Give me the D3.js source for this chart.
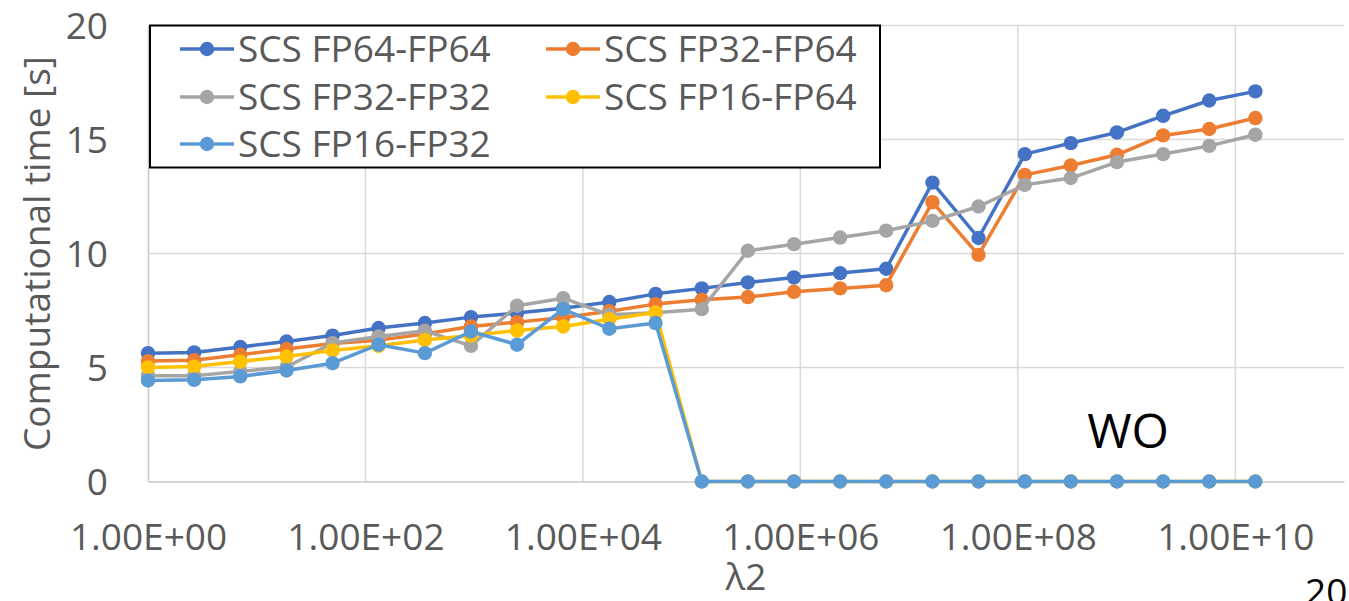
<!DOCTYPE html>
<html>
<head>
<meta charset="utf-8">
<script src="https://cdn.jsdelivr.net/npm/d3@7"></script>
<style>
  html, body { margin: 0; padding: 0; background: #fff; }
  svg { display: block; }
  text { font-family: "Open Sans", "Noto Sans", sans-serif; }
</style>
</head>
<body>
<svg id="chart" width="1349" height="601"></svg>
<script>
// λ2 sample values (x axis, logarithmic)
const lambda2 = [1, 2.66, 7.06, 18.8, 49.8, 132, 352, 934, 2480, 6590, 17500, 46600,
  124000, 329000, 873000, 2.32e6, 6.16e6, 1.64e7, 4.35e7, 1.16e8, 3.07e8, 8.16e8,
  2.17e9, 5.76e9, 1.53e10];

// Computational time [s] per configuration
const fp64fp64 = [5.63, 5.66, 5.9, 6.14, 6.4, 6.73, 6.95, 7.21, 7.39, 7.6, 7.87, 8.23,
  8.47, 8.73, 8.95, 9.14, 9.33, 13.11, 10.68, 14.36, 14.84, 15.31, 16.04, 16.71, 17.11];
const fp32fp64 = [5.28, 5.32, 5.56, 5.81, 6.05, 6.2, 6.47, 6.8, 6.99, 7.19, 7.47, 7.78,
  7.97, 8.09, 8.32, 8.47, 8.61, 12.25, 9.94, 13.45, 13.86, 14.33, 15.18, 15.46, 15.94];
const fp32fp32 = [4.64, 4.64, 4.83, 5.02, 6.07, 6.36, 6.61, 5.95, 7.71, 8.04, 7.31, 7.4,
  7.56, 10.12, 10.41, 10.7, 11.0, 11.43, 12.06, 13.01, 13.31, 14.01, 14.36, 14.72, 15.21];
const fp16fp64 = [5.0, 5.04, 5.26, 5.48, 5.75, 5.95, 6.21, 6.4, 6.62, 6.8, 7.12, 7.41,
  0, 0, 0, 0, 0, 0, 0, 0, 0, 0, 0, 0, 0];
const fp16fp32 = [4.43, 4.46, 4.61, 4.87, 5.19, 6.0, 5.63, 6.58, 6.0, 7.56, 6.7, 6.95,
  0, 0, 0, 0, 0, 0, 0, 0, 0, 0, 0, 0, 0];

const seriesNames = ["SCS FP64-FP64", "SCS FP32-FP64", "SCS FP32-FP32", "SCS FP16-FP64", "SCS FP16-FP32"];
const seriesValues = [fp64fp64, fp32fp64, fp32fp32, fp16fp64, fp16fp32];
const seriesColors = ["#4472C4", "#ED7D31", "#A5A5A5", "#FFC000", "#5B9BD5"];

const xTicks = [1e0, 1e2, 1e4, 1e6, 1e8, 1e10];
const xGrid = [1e0, 1e2, 1e4, 1e6, 1e8, 1e10, 1e11];
const yTicks = [0, 5, 10, 15, 20];

const svg = d3.select("#chart");
const plot = { left: 148, right: 1344, top: 25.5, bottom: 481.5 };

const x = d3.scaleLog().domain([1, 1e11]).range([plot.left, plot.right]);
const y = d3.scaleLinear().domain([0, 20]).range([plot.bottom, plot.top]);

const fmtExp = v => {
  const e = Math.round(Math.log10(v));
  return "1.00E+" + String(e).padStart(2, "0");
};

// gridlines
const grid = svg.append("g");
grid.selectAll("line.h").data(yTicks.filter(d => d > 0)).join("line")
  .attr("x1", plot.left).attr("x2", plot.right)
  .attr("y1", d => y(d)).attr("y2", d => y(d))
  .attr("stroke", "#d9d9d9").attr("stroke-width", 1.5);
grid.selectAll("line.v").data(xGrid.slice(1, -1)).join("line")
  .attr("x1", d => x(d)).attr("x2", d => x(d))
  .attr("y1", plot.top).attr("y2", plot.bottom)
  .attr("stroke", "#d9d9d9").attr("stroke-width", 1.5);

// axes
const xAxis = d3.axisBottom(x).tickValues(xTicks).tickFormat(fmtExp).tickSize(0).tickPadding(42);
const gx = svg.append("g").attr("transform", `translate(0,${plot.bottom})`).call(xAxis);
gx.select(".domain").attr("stroke", "#c8c8c8").attr("stroke-width", 1.5);
gx.selectAll("text").attr("fill", "#595959").attr("font-size", 37)
  .attr("font-family", "'Open Sans', sans-serif");

const yAxis = d3.axisLeft(y).tickValues(yTicks).tickSize(0).tickPadding(40);
const gy = svg.append("g").attr("transform", `translate(${plot.left},0)`).call(yAxis);
gy.select(".domain").attr("stroke", "#c8c8c8").attr("stroke-width", 1.5);
gy.selectAll("text").attr("fill", "#595959").attr("font-size", 37)
  .attr("font-family", "'Open Sans', sans-serif").attr("dy", "0.36em");

// series
const line = d3.line().x((d, i) => x(lambda2[i])).y(d => y(d));
seriesValues.forEach((vals, k) => {
  const g = svg.append("g");
  g.append("path").datum(vals).attr("d", line)
    .attr("fill", "none").attr("stroke", seriesColors[k]).attr("stroke-width", 3.5)
    .attr("stroke-linejoin", "round");
  g.selectAll("circle").data(vals).join("circle")
    .attr("cx", (d, i) => x(lambda2[i])).attr("cy", d => y(d))
    .attr("r", 7.2).attr("fill", seriesColors[k]);
});

// axis titles
svg.append("text").attr("transform", `translate(50,${(plot.top + plot.bottom) / 2}) rotate(-90)`)
  .attr("text-anchor", "middle").attr("font-size", 37).attr("fill", "#595959")
  .text("Computational time [s]");
svg.append("text").attr("x", (plot.left + plot.right) / 2).attr("y", 590)
  .attr("text-anchor", "middle").attr("font-size", 37).attr("fill", "#595959")
  .text("λ2");

// annotation
svg.append("text").attr("x", 1128).attr("y", 448).attr("text-anchor", "middle")
  .attr("font-size", 48).attr("fill", "#000").text("WO");
svg.append("text").attr("x", 1305).attr("y", 605)
  .attr("font-size", 37).attr("fill", "#000").text("20");

// legend
const legend = svg.append("g");
legend.append("rect").attr("x", 150).attr("y", 25.5).attr("width", 730).attr("height", 142)
  .attr("fill", "#fff").attr("stroke", "#000").attr("stroke-width", 2);
const legendPos = [[180, 49], [546, 49], [180, 97], [546, 97], [180, 144]];
seriesNames.forEach((name, k) => {
  const [lx, ly] = legendPos[k];
  const item = legend.append("g");
  item.append("line").attr("x1", lx).attr("x2", lx + 54).attr("y1", ly).attr("y2", ly)
    .attr("stroke", seriesColors[k]).attr("stroke-width", 3.5);
  item.append("circle").attr("cx", lx + 27).attr("cy", ly).attr("r", 7.2).attr("fill", seriesColors[k]);
  item.append("text").attr("x", lx + 58).attr("y", ly).attr("dy", "0.36em")
    .attr("font-size", 37).attr("fill", "#595959").text(name);
});
</script>
</body>
</html>
